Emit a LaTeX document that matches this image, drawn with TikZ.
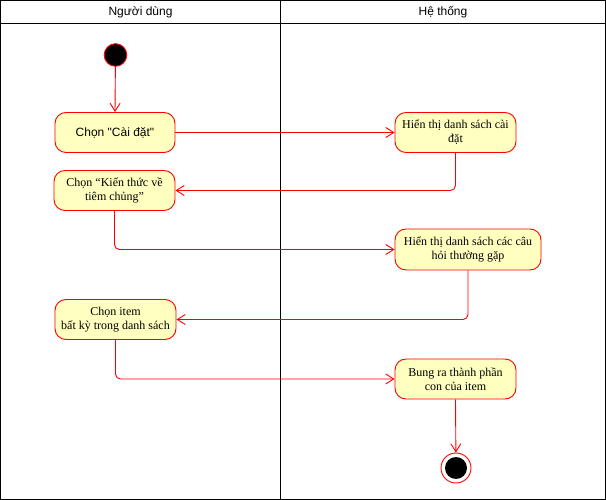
\documentclass[tikz,border=0pt]{standalone}
\usepackage{fontspec}
\setmainfont{Liberation Serif}
\newfontfamily\lanefont{Liberation Sans}
\usetikzlibrary{arrows.meta}
\definecolor{actfill}{HTML}{FFFFC0}
\definecolor{actline}{HTML}{FF0000}
\tikzset{
  lane/.style={draw=black, line width=0.9pt},
  lanetitle/.style={font=\lanefont\fontsize{12pt}{14pt}\selectfont, text=black},
  action/.style={draw=actline, fill=actfill, line width=0.9pt, rounded corners=11pt,
    minimum width=121pt, minimum height=40pt, inner sep=1pt, align=center,
    font=\fontsize{12pt}{14pt}\selectfont},
  flow/.style={draw=actline, line width=0.9pt, rounded corners=5pt,
    -{Straight Barb[length=8pt,width=10pt]}},
  startnode/.style={circle, draw=actline, fill=black, line width=0.9pt,
    minimum size=22.6pt, inner sep=0pt},
}
\begin{document}
\begin{tikzpicture}[x=1pt, y=-1pt]
  \useasboundingbox (0,0) rectangle (606,500);
  \fill[white] (0,0) rectangle (606,500);

  % swimlanes
  \draw[lane] (0.5,0.5) rectangle (605.5,499.5);
  \draw[lane] (0.5,23.5) -- (605.5,23.5);
  \draw[lane] (280.5,0.5) -- (280.5,499.5);
  \node[lanetitle] (laneuser) at (140.5,12.5) {Người dùng};
  \node[lanetitle] (lanesys) at (443,12.5) {Hệ thống};

  % start and end
  \node[startnode] (start) at (115.5,55) {};
  \node[circle, draw=actline, fill=white, line width=0.9pt, minimum size=30pt, inner sep=0pt] (final) at (456,468) {};
  \node[circle, fill=black, minimum size=22pt, inner sep=0pt] (finaldot) at (final.center) {};

  % actions
  \node[action, minimum width=120pt, font=\lanefont\fontsize{12pt}{14pt}\selectfont] (n1) at (115,132.5) {Chọn "Cài đặt"};
  \node[action] (n3) at (455.5,132.5) {Hiển thị danh sách cài\\đặt};
  \node[action] (n2) at (114.5,190.5) {Chọn “Kiến thức về\\tiêm chủng”};
  \node[action, minimum width=146pt, minimum height=41pt] (n4) at (468,249.5) {Hiển thị danh sách các câu\\hỏi thường gặp};
  \node[action] (n5) at (115.5,319.5) {Chọn item\\bất kỳ trong danh sách};
  \node[action] (n6) at (455.5,379) {Bung ra thành phần\\con của item};

  % control flow
  \draw[flow] (start) -- (n1.north);
  \draw[flow] (n1.east) -- (n3.west);
  \draw[flow] (n3.south) |- (n2.east);
  \draw[flow] (n2.south) |- (n4.west);
  \draw[flow] (n4.south) |- (n5.east);
  \draw[flow] (n5.south) |- (n6.west);
  \draw[flow] (n6.south) -- (final);
\end{tikzpicture}
\end{document}
